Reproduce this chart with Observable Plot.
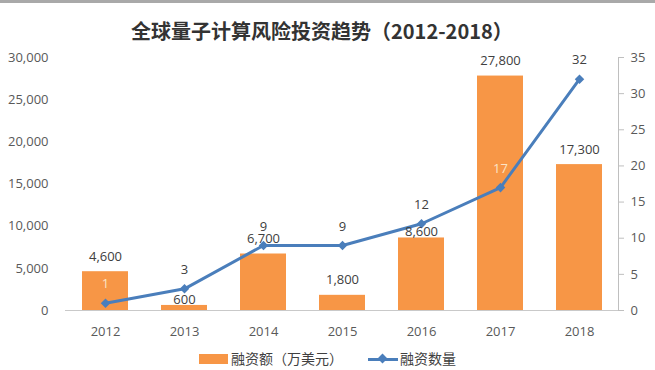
<!DOCTYPE html>
<html>
<head>
<meta charset="utf-8">
<script src="https://cdn.jsdelivr.net/npm/d3@7"></script>
<script src="https://cdn.jsdelivr.net/npm/@observablehq/plot@0.6"></script>
<style>
  body { margin: 0; background: #fff; }
  #wrap { position: relative; width: 655px; height: 370px; overflow: hidden; background: #fff; }
  #topline { position: absolute; left: 0; top: 0; width: 655px; height: 3px; background: #a9a9a9; }
  #title { position: absolute; left: 131px; top: 21px; font: bold 20px/20px "Noto Sans CJK SC", sans-serif; color: #333; white-space: nowrap; }
  #chart { position: absolute; left: 0; top: 0; }
  .lg { position: absolute; }
  .lgtext { font: 14px/14px "Noto Sans CJK SC", sans-serif; color: #404040; white-space: nowrap; top: 351px; }
</style>
</head>
<body>
<div id="wrap">
  <div id="chart"></div>
  <div id="topline"></div>
  <div id="title">全球量子计算风险投资趋势（2012-2018）</div>
  <div class="lg" style="left:199px; top:354px; width:29px; height:10px; background:#F79646;"></div>
  <div class="lg lgtext" style="left:231px;">融资额（万美元）</div>
  <div class="lg" style="left:368px; top:357.5px; width:30px; height:3px; background:#4A7EBB;"></div>
  <div class="lg" style="left:379px; top:355px; width:7px; height:7px; background:#4A7EBB; transform:rotate(45deg);"></div>
  <div class="lg lgtext" style="left:400px;">融资数量</div>
</div>
<script>
const years = ["2012", "2013", "2014", "2015", "2016", "2017", "2018"];
const amounts = [4600, 600, 6700, 1800, 8600, 27800, 17300];   // 融资额（万美元）
const counts = [1, 3, 9, 9, 12, 17, 32];                        // 融资数量
const leftTicks = [0, 5000, 10000, 15000, 20000, 25000, 30000];
const rightTicks = [0, 5, 10, 15, 20, 25, 30, 35];
const lowBarLabelYears = ["2013", "2016"];
const leftMax = 30000, rightMax = 35;

const k = leftMax / rightMax;
const fmt = d3.format(",");
const data = years.map((y, i) => ({ year: y, amount: amounts[i], count: counts[i], countScaled: counts[i] * k }));

const orange = "#F79646", blue = "#4A7EBB", dark = "#404040", light = "#fbe4c6";

const plot = Plot.plot({
  width: 655,
  height: 370,
  marginTop: 57,
  marginBottom: 60,
  marginLeft: 65,
  marginRight: 37,
  style: { fontFamily: "'Open Sans', sans-serif", fontSize: "13px", color: "#595959", background: "transparent" },
  x: { type: "band", domain: years, paddingInner: 0.42, paddingOuter: 0.21, label: null },
  y: { domain: [0, leftMax], label: null },
  marks: [
    Plot.barY(data, { x: "year", y: "amount", fill: orange }),
    Plot.ruleY([0], { stroke: "#c9c9c9" }),
    Plot.frame({ anchor: "right", stroke: "#bfbfbf" }),
    Plot.axisX({ tickSize: 0, tickPadding: 16, label: null }),
    Plot.axisY(leftTicks, { tickFormat: fmt, tickSize: 0, tickPadding: 17, label: null }),
    Plot.axisY(rightTicks.map(v => v * k), { anchor: "right", tickFormat: d => String(Math.round(d / k)), tickSize: 5, tickPadding: 7, stroke: "#bfbfbf", label: null }),
    Plot.line(data, { x: "year", y: "countScaled", stroke: blue, strokeWidth: 3 }),
    Plot.dot(data, { x: "year", y: "countScaled", symbol: "diamond2", r: 4.3, fill: blue }),
    Plot.text(data.filter(d => !lowBarLabelYears.includes(d.year)), { x: "year", y: "amount", text: d => fmt(d.amount), dy: -15, fill: dark }),
    Plot.text(data.filter(d => lowBarLabelYears.includes(d.year)), { x: "year", y: "amount", text: d => fmt(d.amount), dy: -6, fill: dark }),
    Plot.text(data.filter(d => d.countScaled >= d.amount), { x: "year", y: "countScaled", text: d => String(d.count), dy: -19, fill: dark }),
    Plot.text(data.filter(d => d.countScaled < d.amount), { x: "year", y: "countScaled", text: d => String(d.count), dy: -19, fill: light })
  ]
});
document.getElementById("chart").appendChild(plot);
</script>
</body>
</html>
